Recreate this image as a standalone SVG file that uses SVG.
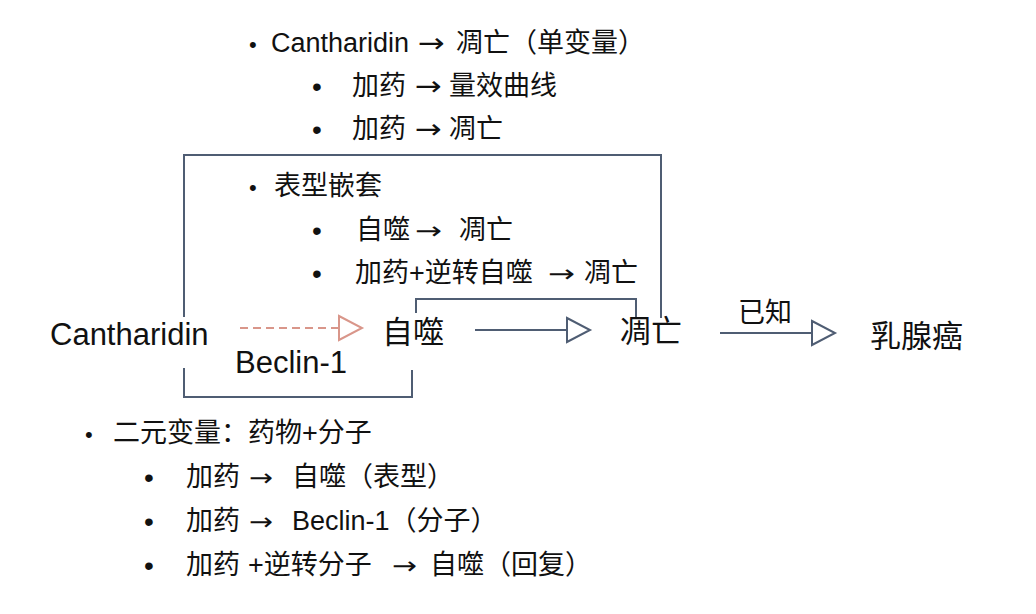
<svg xmlns="http://www.w3.org/2000/svg" width="1036" height="614" viewBox="0 0 1036 614">
<style>
text{font-family:"Liberation Sans","Noto Sans CJK SC",sans-serif;fill:#111}
.l{font-size:27px}
.n{font-size:31px}
.b1{font-size:22px}
.b2{font-size:28px}
.a{font-family:"DejaVu Sans",sans-serif;font-size:27px}
.a2{font-family:"DejaVu Sans",sans-serif;font-size:24px}
.br{fill:none;stroke:#4f5d73;stroke-width:2}
.ar{fill:none;stroke:#4f5d73;stroke-width:2}
.da{fill:none;stroke:#d9968a;stroke-width:2;stroke-dasharray:8 5}
</style>
<defs>
<marker id="hb" markerUnits="userSpaceOnUse" markerWidth="28" markerHeight="28" viewBox="-2 -14 28 28" refX="0" refY="0" orient="auto">
<path d="M0,-12 L23,0 L0,12 Z" fill="#fff" stroke="#4f5d73" stroke-width="2"/>
</marker>
<marker id="hp" markerUnits="userSpaceOnUse" markerWidth="28" markerHeight="28" viewBox="-2 -14 28 28" refX="0" refY="0" orient="auto">
<path d="M0,-12 L23,0 L0,12 Z" fill="#fff" stroke="#d9968a" stroke-width="2"/>
</marker>
</defs>
<rect width="1036" height="614" fill="#fff"/>

<g id="connectors">
<path class="br" d="M184,317 V155 H661 V318"/>
<path class="br" d="M416,313 V299 H636 V318"/>
<path class="br" d="M184,368 V397 H412 V370"/>
<line class="da" x1="240" y1="328" x2="339" y2="328" marker-end="url(#hp)"/>
<line class="ar" x1="475" y1="330" x2="567" y2="330" marker-end="url(#hb)"/>
<line class="ar" x1="720" y1="333" x2="812" y2="333" marker-end="url(#hb)"/>
<text class="l" x="738" y="322">已知</text>
<text class="n" x="235" y="373">Beclin-1</text>
</g>

<g id="node-cantharidin"><text class="n" x="50" y="345">Cantharidin</text></g>
<g id="node-autophagy"><text class="n" x="382" y="343">自噬</text></g>
<g id="node-apoptosis"><text class="n" x="620" y="342">凋亡</text></g>
<g id="node-cancer"><text class="n" x="870" y="347">乳腺癌</text></g>

<g id="list-top">
<text class="b1" x="249" y="52">•</text>
<text class="l" y="52"><tspan x="271">Cantharidin</tspan><tspan x="456">凋亡（单变量）</tspan></text>
<text class="a" x="418" y="52" textLength="27" lengthAdjust="spacingAndGlyphs">→</text>
<text class="b2" x="312" y="96">•</text>
<text class="l" y="95"><tspan x="352">加药</tspan><tspan x="449">量效曲线</tspan></text>
<text class="a" x="415" y="95" textLength="27" lengthAdjust="spacingAndGlyphs">→</text>
<text class="b2" x="312" y="139">•</text>
<text class="l" y="138"><tspan x="352">加药</tspan><tspan x="449">凋亡</tspan></text>
<text class="a" x="415" y="138" textLength="27" lengthAdjust="spacingAndGlyphs">→</text>
</g>

<g id="list-mid">
<text class="b1" x="249" y="195">•</text>
<text class="l" x="274" y="195">表型嵌套</text>
<text class="b2" x="312" y="240">•</text>
<text class="l" y="239"><tspan x="356">自噬</tspan><tspan x="459">凋亡</tspan></text>
<text class="a2" x="415" y="239" textLength="27" lengthAdjust="spacingAndGlyphs">→</text>
<text class="b2" x="312" y="283">•</text>
<text class="l" y="282"><tspan x="355">加药+逆转自噬</tspan><tspan x="584">凋亡</tspan></text>
<text class="a2" x="548" y="282" textLength="27" lengthAdjust="spacingAndGlyphs">→</text>
</g>

<g id="list-bottom">
<text class="b1" x="85" y="442">•</text>
<text class="l" x="113" y="442">二元变量：药物+分子</text>
<text class="b2" x="144" y="487">•</text>
<text class="l" y="486"><tspan x="186">加药</tspan><tspan x="292">自噬（表型）</tspan></text>
<text class="a2" x="249" y="486" textLength="24" lengthAdjust="spacingAndGlyphs">→</text>
<text class="b2" x="144" y="531">•</text>
<text class="l" y="530"><tspan x="186">加药</tspan><tspan x="292">Beclin-1（分子）</tspan></text>
<text class="a2" x="249" y="530" textLength="24" lengthAdjust="spacingAndGlyphs">→</text>
<text class="b2" x="144" y="575">•</text>
<text class="l" y="574"><tspan x="186">加药</tspan><tspan x="248">+逆转分子</tspan><tspan x="430">自噬（回复）</tspan></text>
<text class="a2" x="392" y="574" textLength="25" lengthAdjust="spacingAndGlyphs">→</text>
</g>
</svg>
